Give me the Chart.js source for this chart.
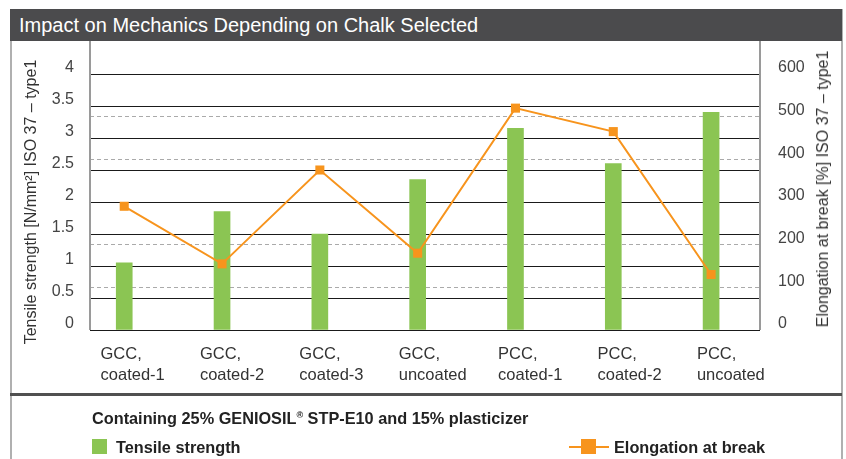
<!DOCTYPE html>
<html>
<head>
<meta charset="utf-8">
<script src="https://cdn.jsdelivr.net/npm/chart.js@4/dist/chart.umd.min.js"></script>
<style>
  body { margin: 0; width: 846px; height: 459px; overflow: hidden; background: #fff;
         font-family: "Liberation Sans", Arial, sans-serif; }
  #myChart { position: absolute; left: 0; top: 0; }
  #frame { position: absolute; left: 10px; top: 9px; width: 833px; height: 470px;
           border-left: 2px solid #b0b0b0; border-right: 2px solid #b0b0b0; box-sizing: border-box; }
  #band { position: absolute; left: 10px; top: 9px; width: 832px; height: 32px; background: #4b4b4d;
          color: #fff; font-size: 20px; line-height: 32px; padding-left: 9px; box-sizing: border-box; }
  #sep { position: absolute; left: 10px; top: 393px; width: 832px; height: 3px; background: #505050; }
  #rtitle { position: absolute; left: 823px; top: 189px; transform: translate(-50%, -50%) rotate(-90deg);
            white-space: nowrap; font-size: 16px; color: #333; }
  .leg { position: absolute; font-size: 16.3px; font-weight: bold; color: #222; white-space: nowrap; line-height: 18px; }
  .leg sup { font-size: 9px; vertical-align: 6px; line-height: 0; }
  .sq { position: absolute; width: 15px; height: 15px; }
  .ln { position: absolute; height: 2px; background: #f7941d; }
</style>
</head>
<body>
<canvas id="myChart" width="846" height="459"></canvas>
<div id="frame"></div>
<div id="band">Impact on Mechanics Depending on Chalk Selected</div>
<div id="sep"></div>
<div id="rtitle">Elongation at break [%] ISO 37 – type1</div>
<div class="leg" style="left:92px;top:409px;">Containing 25% GENIOSIL<sup>®</sup> STP-E10 and 15% plasticizer</div>
<div class="sq" style="left:92px;top:439px;background:#8bc553;"></div>
<div class="leg" style="left:116px;top:438px;">Tensile strength</div>
<div class="ln" style="left:569px;top:446px;width:40px;"></div>
<div class="sq" style="left:581px;top:439px;background:#f7941d;"></div>
<div class="leg" style="left:614px;top:438px;">Elongation at break</div>
<script>
// data
const categories = [
  ['GCC,', 'coated-1'], ['GCC,', 'coated-2'], ['GCC,', 'coated-3'], ['GCC,', 'uncoated'],
  ['PCC,', 'coated-1'], ['PCC,', 'coated-2'], ['PCC,', 'uncoated']
];
const tensileStrength = [1.05, 1.85, 1.5, 2.35, 3.15, 2.6, 3.4];
const elongationAtBreak = [290, 155, 375, 180, 520, 465, 130];
const leftTicks = [0, 0.5, 1, 1.5, 2, 2.5, 3, 3.5, 4];
const rightTicks = [0, 100, 200, 300, 400, 500, 600];

const toPoints = arr => arr.map((v, i) => ({ x: i, y: v }));
const setTicks = list => scale => { scale.ticks = list.map(v => ({ value: v })); };

// vertical axis lines, running up to the title band
const axisLines = {
  id: 'axisLines',
  beforeDatasetsDraw(chart) {
    const { ctx, chartArea } = chart;
    ctx.save();
    ctx.strokeStyle = '#9a9a9a';
    ctx.lineWidth = 2;
    [chartArea.left, chartArea.right].forEach(x => {
      ctx.beginPath();
      ctx.moveTo(x, 41);
      ctx.lineTo(x, chartArea.bottom);
      ctx.stroke();
    });
    ctx.restore();
  }
};

const data = {
  datasets: [
    {
      type: 'line',
      label: 'Elongation at break',
      data: toPoints(elongationAtBreak),
      yAxisID: 'y2',
      borderColor: '#f7941d',
      borderWidth: 2,
      pointStyle: 'rect',
      pointRadius: 6.4,
      pointBackgroundColor: '#f7941d',
      pointBorderWidth: 0,
      order: 0
    },
    {
      type: 'bar',
      label: 'Tensile strength',
      data: toPoints(tensileStrength),
      yAxisID: 'y',
      backgroundColor: '#8bc553',
      barThickness: 16,
      order: 1
    }
  ]
};

const tickFont = { family: '"Liberation Sans", Arial, sans-serif', size: 16 };

const config = {
  data,
  plugins: [axisLines],
  options: {
    responsive: false,
    animation: false,
    layout: { padding: { top: 74, left: 0, right: 0, bottom: 0 } },
    plugins: { legend: { display: false }, tooltip: { enabled: false } },
    scales: {
      x: {
        type: 'linear', min: -0.35, max: 6.5, offset: false, display: false
      },
      xl: {
        type: 'linear', position: 'bottom', min: -0.106, max: 6.635, offset: false,
        afterBuildTicks: setTicks(categories.map((c, i) => i)),
        afterFit: s => { s.height = 129; },
        grid: { display: false, drawTicks: false },
        border: { display: false },
        ticks: {
          align: 'start', padding: 14, maxRotation: 0, autoSkip: false,
          color: '#333', font: { ...tickFont, size: 16.5, lineHeight: 1.27 },
          callback: v => categories[v]
        }
      },
      y: {
        position: 'left', min: 0, max: 4,
        afterBuildTicks: setTicks(leftTicks),
        afterFit: s => { s.width = 90; },
        grid: { color: '#1a1a1a', lineWidth: 1, drawTicks: false },
        border: { display: false },
        ticks: { padding: 16, labelOffset: -6, color: '#444', font: tickFont, callback: v => String(v) },
        title: {
          display: true, text: 'Tensile strength [N/mm²] ISO 37 – type1',
          color: '#333', font: tickFont, padding: { top: 22, bottom: 0 }
        }
      },
      y2: {
        position: 'right', min: 0, max: 600,
        afterBuildTicks: setTicks(rightTicks),
        afterFit: s => { s.width = 86; },
        grid: {
          drawTicks: false, lineWidth: 1,
          color: c => [0, 300, 600].includes(c.tick.value) ? 'rgba(0,0,0,0)' : '#aaaaaa'
        },
        border: { display: false, dash: [4, 3] },
        ticks: { padding: 18, labelOffset: -6, color: '#444', font: tickFont, callback: v => String(v) }
      }
    }
  }
};

const myChart = new Chart(document.getElementById('myChart'), config);
</script>
</body>
</html>
